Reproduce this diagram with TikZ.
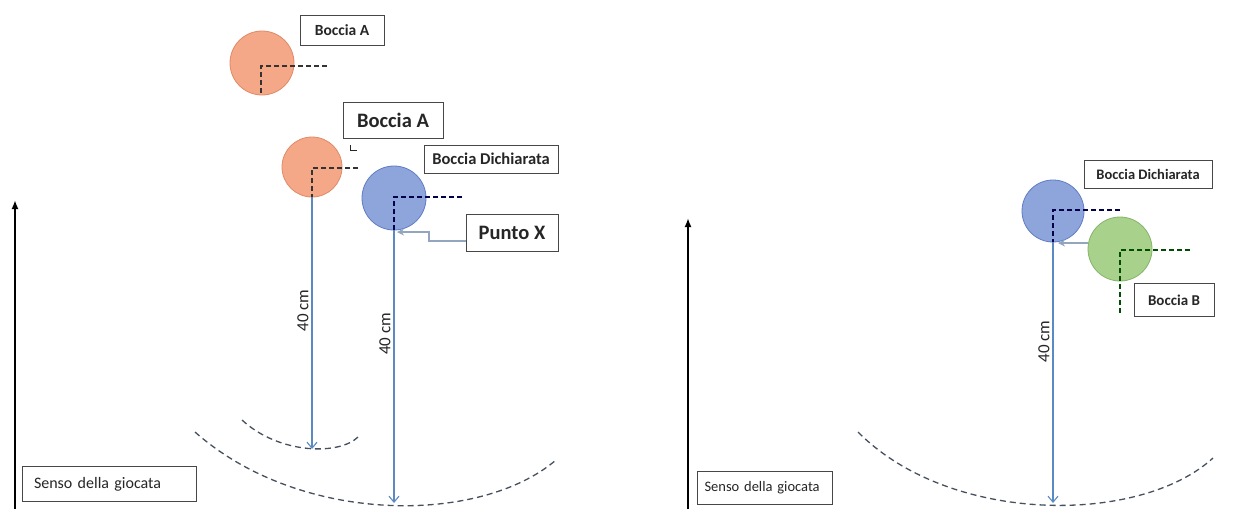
\documentclass[tikz,border=0pt]{standalone}
\usepackage{fontspec}
\setmainfont{Carlito}
\usetikzlibrary{arrows.meta}
\definecolor{orangeball}{HTML}{F4A887}
\definecolor{orangeedge}{HTML}{E08A66}
\definecolor{blueball}{HTML}{8EA5DC}
\definecolor{blueedge}{HTML}{5F7CC4}
\definecolor{greenball}{HTML}{A8D18C}
\definecolor{greenedge}{HTML}{86B46A}
\definecolor{measure}{HTML}{5B8AC2}
\definecolor{arcline}{HTML}{46505E}
\definecolor{pointer}{HTML}{93A6BE}
\definecolor{textgray}{HTML}{262626}
\begin{document}
\begin{tikzpicture}[x=1pt, y=-1pt,
    ball/.style = {circle, inner sep=0pt, minimum size=#1, line width=0.8pt},
    tag/.style = {draw=textgray!85, line width=0.9pt, fill=white, inner sep=0pt, text=textgray, font=\bfseries},
    sensobox/.style = {draw=textgray!85, line width=0.9pt, inner ysep=0pt, align=left, text=textgray},
    corner/.style = {densely dashed, dash pattern=on 5pt off 3pt, line width=1.3pt, draw=black!80},
    measurearrow/.style = {draw=measure, line width=1.1pt, -{Straight Barb[length=6pt, width=10pt]}},
    arc/.style = {draw=arcline, line width=1.3pt, dash pattern=on 6pt off 4pt},
    playarrow/.style = {line width=2.4pt, -{Latex[length=9pt, width=7pt]}}]
  \useasboundingbox (0,0) rectangle (1241,509);
  \fill[white] (0,0) rectangle (1241,509);

  \coordinate (lfoot) at (15,509);
  \coordinate (lhead) at (15,200);
  \draw[playarrow] (lfoot) -- (lhead);
  \node[sensobox, text width=150pt, inner xsep=12pt, minimum height=35pt,
    font=\fontsize{16}{18}\selectfont] (lsenso) at (109,484) {Senso della giocata};

  \node[ball=64pt, fill=orangeball, draw=orangeedge] (ba1) at (262,63) {};
  \node[ball=60pt, fill=orangeball, draw=orangeedge] (ba2) at (312,167) {};
  \node[ball=64pt, fill=blueball, draw=blueedge] (bd1) at (394,198) {};

  \node[tag, minimum width=84pt, minimum height=30pt, font=\bfseries\fontsize{15.5}{17}\selectfont] (tba1) at (342,30) {Boccia A};
  \node[tag, minimum width=100pt, minimum height=36pt, font=\bfseries\fontsize{20.5}{22}\selectfont] (tba2) at (393,120) {Boccia A};
  \node[tag, minimum width=134pt, minimum height=28pt, font=\bfseries\fontsize{16.5}{18}\selectfont] (tbd1) at (491,159) {Boccia Dichiarata};
  \node[tag, minimum width=92pt, minimum height=37pt, font=\bfseries\fontsize{20.5}{22}\selectfont] (tpx) at (512,233) {Punto X};
  \draw[line width=0.7pt, textgray] (350,145) |- (357,150);

  \draw[corner] (327,66) -- (261,66) -- (261,93);
  \draw[corner] (358,168) -- (312,168) -- (312,255);
  \draw[corner, draw=black!70!blue] (462,197) -- (394,197) -- (394,258);

  \coordinate (lend1) at (312,449);
  \coordinate (lend2) at (394,503);
  \draw[measurearrow] (ba2.south) -- node[pos=0.45, above, sloped, rotate=180, text=textgray, font=\fontsize{17}{19}\selectfont, inner sep=3pt] {40 cm} (lend1);
  \draw[measurearrow] (bd1.south) -- node[pos=0.38, above, sloped, rotate=180, text=textgray, font=\fontsize{17}{19}\selectfont, inner sep=3pt] {40 cm} (lend2);

  \coordinate (lbend) at (429,241);
  \coordinate (lhit) at (397,232);
  \draw[draw=pointer, line width=1.1pt, -{Stealth[length=7pt, width=7pt, fill=measure]}] (tpx.west |- lbend) -- (lbend) |- (lhit);

  \draw[arc] (242,420) .. controls (280,455) and (340,455) .. (358,437);
  \draw[arc] (195,432) .. controls (300,525) and (480,525) .. (556,460);

  \coordinate (rfoot) at (688,509);
  \coordinate (rhead) at (688,218);
  \draw[playarrow] (rfoot) -- (rhead);
  \node[sensobox, text width=121pt, inner xsep=7pt, minimum height=33pt,
    font=\fontsize{14.5}{16}\selectfont] (rsenso) at (765,488) {Senso della giocata};

  \node[ball=62pt, fill=blueball, draw=blueedge] (bd2) at (1053,211) {};
  \node[ball=64pt, fill=greenball, draw=greenedge] (bb) at (1120,249) {};

  \node[tag, minimum width=128pt, minimum height=28pt, font=\bfseries\fontsize{14.5}{16}\selectfont] (tbd2) at (1148,174) {Boccia Dichiarata};
  \node[tag, minimum width=80pt, minimum height=33pt, font=\bfseries\fontsize{15}{17}\selectfont] (tbb) at (1174,300) {Boccia B};

  \draw[corner, draw=black!70!blue] (1120,210) -- (1053,210) -- (1053,265);
  \draw[corner, draw=black!70!green] (1190,250) -- (1120,250) -- (1120,315);

  \coordinate (rend) at (1053,503);
  \draw[measurearrow] (bd2.south) -- node[pos=0.38, above, sloped, rotate=180, text=textgray, font=\fontsize{17}{19}\selectfont, inner sep=3pt] {40 cm} (rend);

  \coordinate (rhit) at (1058,243);
  \draw[draw=pointer, line width=1.1pt, -{Stealth[length=7pt, width=7pt, fill=measure]}] (bb.west |- rhit) -- (rhit);

  \draw[arc] (858,432) .. controls (950,525) and (1140,525) .. (1213,458);
\end{tikzpicture}
\end{document}
